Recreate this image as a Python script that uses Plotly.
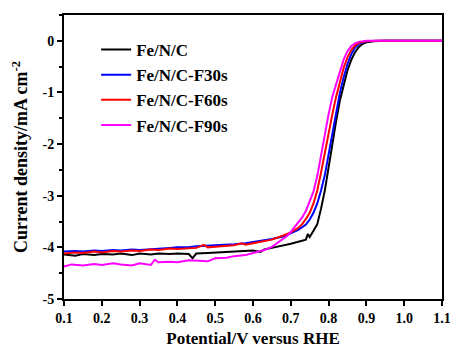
import plotly.graph_objects as go

names = ["Fe/N/C", "Fe/N/C-F30s", "Fe/N/C-F60s", "Fe/N/C-F90s"]
colors = ["#000000", "#0000ff", "#ff0000", "#ff00ff"]

v_black = [0.10, 0.13, 0.15, 0.18, 0.20, 0.23, 0.25, 0.28, 0.30, 0.33, 0.35, 0.38, 0.40, 0.43, 0.44, 0.45, 0.48, 0.50,
           0.53, 0.55, 0.58, 0.60, 0.62, 0.63, 0.65, 0.68, 0.70, 0.72, 0.74, 0.745, 0.75, 0.76, 0.77, 0.78, 0.79,
           0.80, 0.81, 0.82, 0.83, 0.84, 0.85, 0.86, 0.87, 0.88, 0.89, 0.90, 0.92, 0.95, 1.00, 1.05, 1.10]
j_black = [-4.14, -4.16, -4.13, -4.15, -4.13, -4.14, -4.12, -4.15, -4.12, -4.14, -4.12, -4.13, -4.12, -4.13, -4.21, -4.12, -4.11, -4.10,
           -4.09, -4.08, -4.07, -4.06, -4.09, -4.04, -4.01, -3.97, -3.93, -3.89, -3.85, -3.74, -3.80, -3.68, -3.55, -3.25, -2.90,
           -2.45, -1.98, -1.55, -1.15, -0.84, -0.57, -0.37, -0.22, -0.12, -0.06, -0.03, -0.01, 0.0, 0.0, 0.0, 0.0]

v_blue = [0.10, 0.13, 0.15, 0.18, 0.20, 0.23, 0.25, 0.28, 0.30, 0.33, 0.35, 0.38, 0.40, 0.43, 0.45, 0.48, 0.50,
          0.53, 0.55, 0.58, 0.60, 0.63, 0.65, 0.68, 0.70, 0.72, 0.74, 0.75, 0.76, 0.77, 0.78, 0.79,
          0.80, 0.81, 0.82, 0.83, 0.84, 0.85, 0.86, 0.87, 0.88, 0.90, 0.93, 1.00, 1.05, 1.10]
j_blue = [-4.08, -4.07, -4.08, -4.06, -4.07, -4.05, -4.06, -4.04, -4.05, -4.03, -4.03, -4.01, -4.00, -4.00, -3.98, -3.97, -3.96,
          -3.95, -3.94, -3.92, -3.90, -3.87, -3.84, -3.79, -3.73, -3.66, -3.56, -3.46, -3.33, -3.15, -2.90, -2.60,
          -2.20, -1.78, -1.38, -1.00, -0.70, -0.45, -0.26, -0.13, -0.06, -0.01, 0.0, 0.0, 0.0, 0.0]

v_red = [0.10, 0.13, 0.15, 0.18, 0.20, 0.23, 0.25, 0.28, 0.30, 0.33, 0.35, 0.38, 0.40, 0.43, 0.45, 0.47, 0.48, 0.50,
         0.53, 0.55, 0.57, 0.58, 0.60, 0.63, 0.65, 0.68, 0.70, 0.72, 0.73, 0.74, 0.75, 0.76, 0.77, 0.78, 0.79,
         0.80, 0.81, 0.82, 0.83, 0.84, 0.85, 0.86, 0.87, 0.88, 0.90, 0.93, 1.00, 1.05, 1.10]
j_red = [-4.12, -4.10, -4.11, -4.08, -4.10, -4.07, -4.08, -4.06, -4.07, -4.04, -4.05, -4.02, -4.03, -4.01, -4.01, -3.95, -4.00, -3.99,
         -3.97, -3.96, -3.92, -3.95, -3.92, -3.88, -3.85, -3.77, -3.71, -3.62, -3.55, -3.45, -3.33, -3.15, -2.90, -2.55, -2.15,
         -1.80, -1.42, -1.08, -0.78, -0.52, -0.32, -0.18, -0.09, -0.04, -0.01, 0.0, 0.0, 0.0, 0.0]

v_mag = [0.10, 0.12, 0.15, 0.18, 0.20, 0.23, 0.25, 0.28, 0.30, 0.33, 0.34, 0.35, 0.38, 0.40, 0.43, 0.45, 0.48, 0.50,
         0.53, 0.55, 0.58, 0.60, 0.63, 0.65, 0.67, 0.69, 0.70, 0.71, 0.72, 0.73, 0.74, 0.75, 0.76, 0.77, 0.78, 0.79,
         0.80, 0.81, 0.82, 0.83, 0.84, 0.85, 0.86, 0.87, 0.88, 0.90, 0.95, 1.00, 1.05, 1.10]
j_mag = [-4.37, -4.33, -4.35, -4.32, -4.34, -4.31, -4.33, -4.35, -4.31, -4.34, -4.24, -4.29, -4.28, -4.29, -4.25, -4.26, -4.27, -4.21,
         -4.20, -4.17, -4.15, -4.11, -4.05, -3.99, -3.89, -3.78, -3.70, -3.61, -3.52, -3.42, -3.29, -3.12, -2.92, -2.62, -2.22, -1.78,
         -1.42, -1.08, -0.83, -0.58, -0.36, -0.20, -0.10, -0.05, -0.02, 0.0, 0.0, 0.0, 0.0, 0.0]

xs = [v_black, v_blue, v_red, v_mag]
ys = [j_black, j_blue, j_red, j_mag]

x_ticks = [0.1, 0.2, 0.3, 0.4, 0.5, 0.6, 0.7, 0.8, 0.9, 1.0, 1.1]
x_ticklabels = ["0.1", "0.2", "0.3", "0.4", "0.5", "0.6", "0.7", "0.8", "0.9", "1.0", "1.1"]
y_ticks = [-5, -4, -3, -2, -1, 0]
y_ticklabels = ["-5", "-4", "-3", "-2", "-1", "0"]

fig = go.Figure()
for n, c, x, y in zip(names, colors, xs, ys):
    fig.add_trace(go.Scatter(x=x, y=y, mode="lines", name="<b>" + n + "</b>", line=dict(color=c, width=2)))

font = "Liberation Serif, Times New Roman, serif"
fig.update_layout(
    width=458, height=352,
    margin=dict(l=64, r=7, t=15, b=49),
    paper_bgcolor="white", plot_bgcolor="white",
    font=dict(family=font, color="black"),
    showlegend=True,
    legend=dict(x=0.085, y=0.94, xanchor="left", yanchor="top", bgcolor="rgba(0,0,0,0)",
                font=dict(family=font, size=17, color="black"), tracegroupgap=0, itemwidth=30),
)
fig.update_xaxes(
    range=[0.1, 1.1], tickvals=x_ticks, ticktext=["<b>" + t + "</b>" for t in x_ticklabels],
    showgrid=False, zeroline=False, showline=True, linecolor="black", linewidth=2, mirror=True,
    ticks="outside", ticklen=5, tickwidth=2, tickcolor="black",
    tickfont=dict(family=font, size=14, color="black"),
    title=dict(text="<b>Potential/V versus RHE</b>", font=dict(family=font, size=17, color="black"), standoff=7),
)
fig.update_yaxes(
    range=[-5, 0.5], tickvals=y_ticks, ticktext=["<b>" + t + "</b>" for t in y_ticklabels],
    showgrid=False, zeroline=False, showline=True, linecolor="black", linewidth=2, mirror=True,
    ticks="outside", ticklen=5, tickwidth=2, tickcolor="black",
    tickfont=dict(family=font, size=14, color="black"),
    minor=dict(dtick=0.5, ticks="outside", ticklen=3, tickwidth=1.5, tickcolor="black"),
    title=dict(text="<b>Current density/mA cm<sup>-2</sup></b>", font=dict(family=font, size=18, color="black"), standoff=10),
)

fig.write_html("out.html")
